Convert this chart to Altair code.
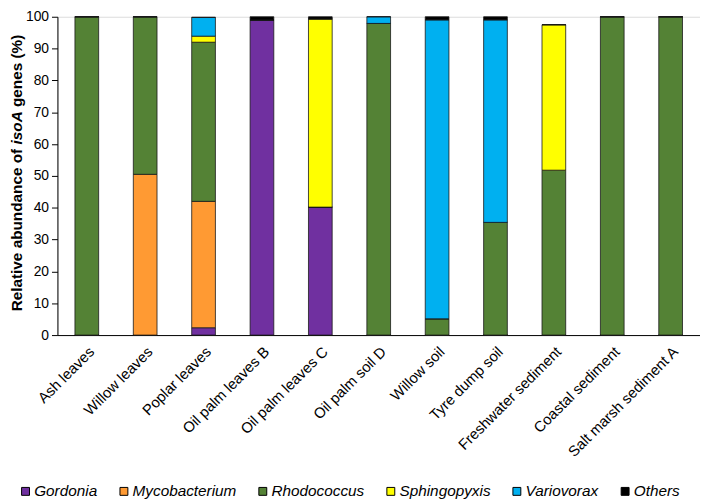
import altair as alt
import pandas as pd

samples = ["Ash leaves", "Willow leaves", "Poplar leaves", "Oil palm leaves B",
           "Oil palm leaves C", "Oil palm soil D", "Willow soil", "Tyre dump soil",
           "Freshwater sediment", "Coastal sediment", "Salt marsh sediment A"]
genera = ["Gordonia", "Mycobacterium", "Rhodococcus", "Sphingopyxis", "Variovorax", "Others"]
colors = ["#7030A0", "#FF9A33", "#548235", "#FFFF00", "#00B0F0", "#000000"]

gordonia      = [0, 0, 2.3, 99.0, 40.2, 0, 0, 0, 0, 0, 0]
mycobacterium = [0, 50.5, 39.7, 0, 0, 0, 0, 0, 0, 0, 0]
rhodococcus   = [100, 49.5, 50.0, 0, 0, 97.9, 5.1, 35.4, 51.8, 100, 100]
sphingopyxis  = [0, 0, 1.9, 0, 59.1, 0, 0, 0, 45.7, 0, 0]
variovorax    = [0, 0, 5.9, 0, 0, 2.1, 93.9, 63.6, 0, 0, 0]
others        = [0, 0, 0, 1.0, 0.7, 0, 1.0, 1.0, 0, 0, 0]

title_parts = ["Relative abundance of", "isoA", "genes (%)"]

series = [gordonia, mycobacterium, rhodococcus, sphingopyxis, variovorax, others]
rows = []
for gi, (g, vals) in enumerate(zip(genera, series)):
    for s, v in zip(samples, vals):
        rows.append({"Sample": s, "Genus": g, "Value": v, "order": gi})
df = pd.DataFrame(rows)

font = "Liberation Sans"

bars = alt.Chart(df).mark_bar(stroke="#1a1a1a", strokeWidth=0.8).encode(
    x=alt.X("Sample:N", sort=samples,
            scale=alt.Scale(paddingInner=0.594, paddingOuter=0.3),
            axis=alt.Axis(title=None, labelAngle=-45, ticks=False, labelFontSize=15,
                          labelColor="black", labelPadding=9, domainColor="black",
                          labelFont=font)),
    y=alt.Y("Value:Q", stack="zero", scale=alt.Scale(domain=[0, 100], nice=False),
            axis=alt.Axis(title=None, values=list(range(0, 101, 10)), grid=False,
                          tickSize=6, tickColor="black", domainColor="black",
                          labelFontSize=14, labelColor="black", labelPadding=3,
                          labelFont=font)),
    color=alt.Color("Genus:N", sort=genera,
                    scale=alt.Scale(domain=genera, range=colors),
                    legend=alt.Legend(title=None, orient="none", direction="horizontal",
                                      legendX=-40, legendY=472, symbolType="square",
                                      symbolSize=64, symbolStrokeColor="black",
                                      symbolStrokeWidth=1, labelFontStyle="italic",
                                      labelFontSize=15.5, labelFont=font,
                                      labelColor="black", labelOffset=1,
                                      columnPadding=18.5)),
    order=alt.Order("order:Q", sort="ascending"),
)

tdf1 = pd.DataFrame({"t": [title_parts[0]]})
tdf2 = pd.DataFrame({"t": [title_parts[1]]})
tdf3 = pd.DataFrame({"t": [title_parts[2]]})

tx = -41
t1 = alt.Chart(tdf1).mark_text(angle=270, align="left", baseline="middle", fontWeight="bold",
                                fontSize=15.5, font=font, color="black").encode(
    text="t:N", x=alt.value(tx), y=alt.value(298))
t2 = alt.Chart(tdf2).mark_text(angle=270, align="left", baseline="middle", fontWeight="bold",
                                fontStyle="italic", fontSize=15.5, font=font, color="black").encode(
    text="t:N", x=alt.value(tx), y=alt.value(129.2))
t3 = alt.Chart(tdf3).mark_text(angle=270, align="left", baseline="middle", fontWeight="bold",
                                fontSize=15.5, font=font, color="black").encode(
    text="t:N", x=alt.value(tx), y=alt.value(91.3))

chart = alt.layer(bars, t1, t2, t3).properties(
    width=650, height=322,
    autosize=alt.AutoSizeParams(type="none"),
    padding={"left": 50, "top": 6, "right": 0, "bottom": 165},
).configure_view(stroke=None).configure(font=font)

chart.save("out.html", embed_options={"renderer": "svg", "actions": False})
